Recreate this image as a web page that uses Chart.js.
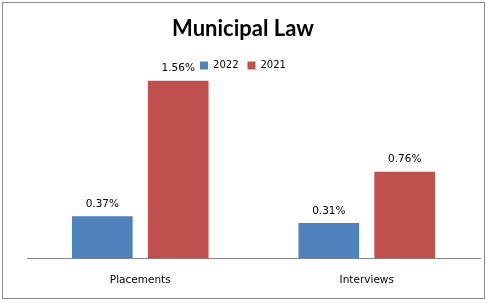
<!DOCTYPE html>
<html>
<head>
<meta charset="utf-8">
<script src="https://cdn.jsdelivr.net/npm/chart.js@4"></script>
<style>
  body { margin: 0; background: #fff; }
  #wrap { width: 487px; height: 303px; position: relative; }
</style>
</head>
<body>
<div id="wrap"><canvas id="chart" width="487" height="303"></canvas></div>
<script>
// chart data
const categories = ['Placements', 'Interviews']
const years = ['2022', '2021']
const values2022 = [0.37, 0.31]
const values2021 = [1.56, 0.76]

// frame round the whole picture
const framePlugin = {
  id: 'frame',
  beforeDraw(chart) {
    const ctx = chart.ctx
    ctx.save()
    ctx.fillStyle = '#fff'
    ctx.fillRect(0, 0, chart.width, chart.height)
    ctx.strokeStyle = '#8c8c8c'
    ctx.lineWidth = 1
    ctx.strokeRect(2.5, 2.5, 482, 296)
    ctx.restore()
  }
}

// percent labels above each bar
const valueLabels = {
  id: 'valueLabels',
  afterDatasetsDraw(chart) {
    const ctx = chart.ctx
    ctx.save()
    ctx.font = '10.5px "DejaVu Sans"'
    ctx.fillStyle = '#000'
    ctx.textAlign = 'center'
    ctx.textBaseline = 'bottom'
    chart.data.datasets.forEach((ds, i) => {
      chart.getDatasetMeta(i).data.forEach((bar, j) => {
        ctx.fillText(ds.data[j].toFixed(2) + '%', bar.x, bar.y - 7)
      })
    })
    ctx.restore()
  }
}

const data = {
  labels: categories,
  datasets: [
    {
      label: years[0],
      data: values2022,
      backgroundColor: '#4f81bd',
      categoryPercentage: 0.67,
      barPercentage: 0.8
    },
    {
      label: years[1],
      data: values2021,
      backgroundColor: '#c0504d',
      categoryPercentage: 0.67,
      barPercentage: 0.8
    }
  ]
}

const config = {
  type: 'bar',
  data: data,
  options: {
    responsive: false,
    animation: false,
    layout: { padding: { left: 6, right: 7, top: 6, bottom: 0 } },
    plugins: {
      title: {
        display: true,
        text: 'Municipal Law',
        color: '#000',
        font: { family: 'Lato', size: 22, weight: 'bold' },
        padding: { top: 10, bottom: 9 }
      },
      legend: {
        display: true,
        labels: {
          color: '#000',
          font: { family: 'DejaVu Sans', size: 10 },
          boxWidth: 8,
          boxHeight: 8,
          padding: 9
        }
      },
      tooltip: { enabled: false }
    },
    scales: {
      x: {
        grid: { display: false, drawTicks: false },
        border: { display: true, color: '#868686' },
        ticks: {
          color: '#000',
          font: { family: 'DejaVu Sans', size: 10.5, lineHeight: 1 },
          padding: 17
        }
      },
      y: {
        min: 0,
        max: 1.56,
        grid: { display: false, drawTicks: false },
        border: { display: false },
        ticks: { display: false },
        afterFit(scale) { scale.width = 21 }
      }
    }
  },
  plugins: [framePlugin, valueLabels]
}

new Chart(document.getElementById('chart'), config)
</script>
</body>
</html>
